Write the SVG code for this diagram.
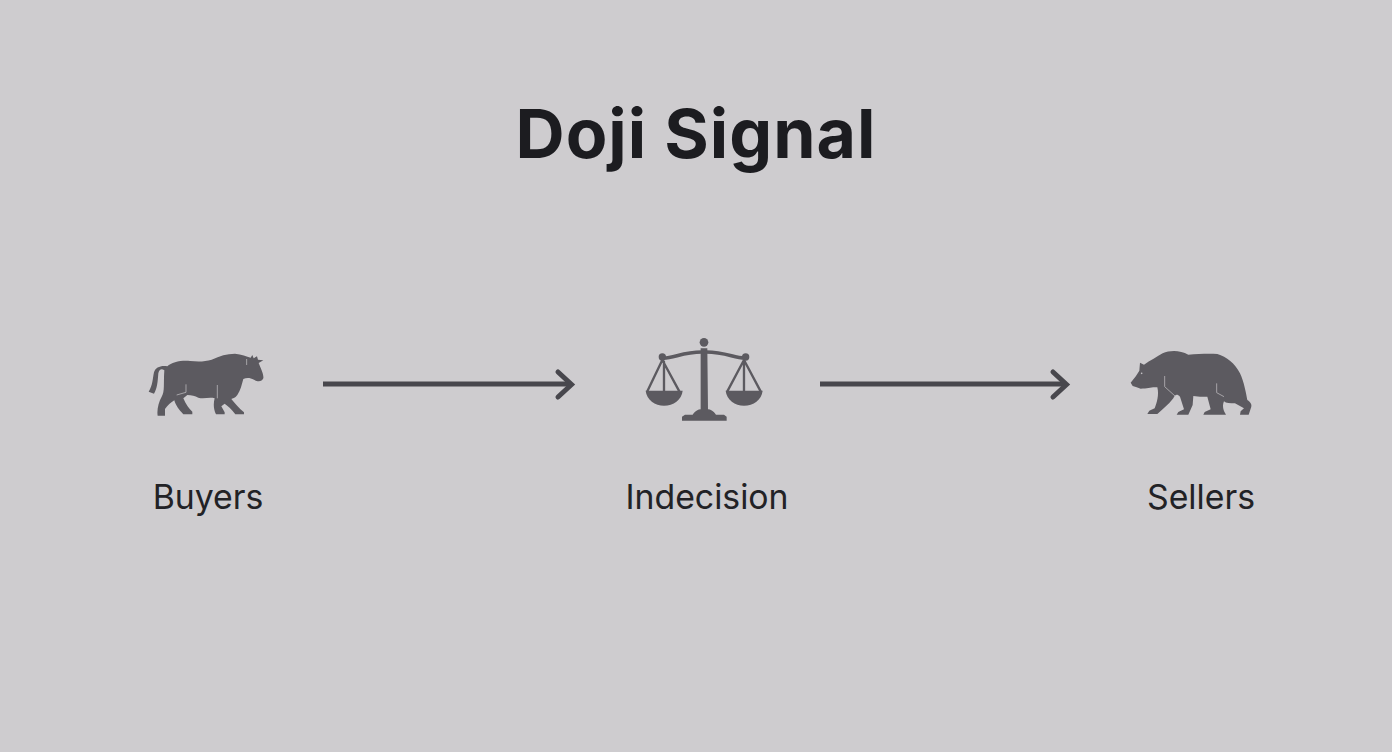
<svg xmlns="http://www.w3.org/2000/svg" width="1392" height="752" viewBox="0 0 1392 752">
<style>
.t{font-family:"Inter","Liberation Sans",sans-serif;fill:#222226;text-anchor:middle}
.title{font-size:68px;font-weight:700;fill:#1c1c20;letter-spacing:1px}
.lab{font-size:33.800px;font-weight:400}
.ic{fill:#5c5a60}
.cut{fill:none;stroke:#b4b2b6;stroke-width:2.500}
.ln{fill:none;stroke:#5c5a60;stroke-linecap:round;stroke-linejoin:round}
.conn{fill:none;stroke:#48474d;stroke-width:5}
.head{fill:none;stroke:#48474d;stroke-width:5;stroke-linecap:round;stroke-linejoin:miter}
</style>
<rect width="1392" height="752" fill="#cecccf"/>
<text id="title" class="t title" x="696" y="158">Doji Signal</text>
<g id="connectors">
<path class="conn" d="M323 384H569"/><path class="head" d="M558 372L571.500 384.500L558 397"/>
<path class="conn" d="M820 384H1064"/><path class="head" d="M1053 372L1066.500 384.500L1053 397"/>
</g>
<g id="buyers">
<g transform="translate(130 335) scale(.3333)">
<path class="ic" d="M56 170C68 152 68 130 72 112C76 96 95 90 112 94C125 82 150 76 180 78C205 80 225 80 245 74C270 62 290 56 315 56C335 58 350 64 362 68L367 60L371 70L381 64L384 74L400 76L386 84C392 100 402 118 400 130C396 140 384 142 372 134C360 128 350 128 340 132C335 150 332 165 322 180C315 190 308 190 304 192C314 205 328 220 342 232V238H316C305 222 292 212 284 206L274 214L284 232V238H258C250 222 250 205 254 190C240 186 220 192 205 188C195 183 185 180 172 180L160 190C168 208 176 220 187 230V238H160C148 225 136 210 133 196C123 202 112 212 105 222L105 242H83C80 225 86 200 95 185C105 170 100 145 103 106C95 100 88 102 85 115C83 140 82 160 72 176Z"/>
<path class="cut" d="M168 148V172L140 180M262 150V190M350 72V90"/>
</g>
<text class="t lab" x="208" y="509">Buyers</text>
</g>
<g id="indecision">
<g transform="translate(630 330) scale(.3333)">
<circle class="ic" cx="222" cy="37" r="13"/>
<path class="ic" d="M212 55H232L234 238C250 240 254 250 258 254H282L290 260V272H156V260L165 254H188C192 250 196 240 212 238Z"/>
<path class="ln" d="M97 84C130 86 160 64 222 66C285 64 315 86 347 84" stroke-width="11"/>
<circle class="ic" cx="97" cy="81" r="11"/><circle class="ic" cx="347" cy="81" r="11"/>
<path class="ln" d="M52 184L97 90L148 184M102 95V184M292 184L342 90L392 184M342 95V184" stroke-width="7"/>
<path class="ic" d="M47 182H158C155 210 130 227 102 227C75 227 50 210 47 182Z"/>
<path class="ic" d="M287 182H398C395 210 370 227 342 227C315 227 290 210 287 182Z"/>
</g>
<text class="t lab" x="707" y="509">Indecision</text>
</g>
<g id="sellers">
<g transform="translate(1120 340) scale(.3333)">
<path class="ic" d="M32 128L48 108L58 92L60 68L72 74C90 62 112 50 128 40C150 30 180 30 205 44C235 42 265 40 292 42C320 50 345 70 360 100C372 125 378 160 382 180C392 186 398 195 392 206L386 224H360L362 214L372 205L345 190C330 190 318 190 312 184C305 200 312 215 318 224H250L254 216L272 208L262 170L240 170L220 168L218 195L205 224H170L175 216L192 208L180 170C170 160 165 165 160 175C145 195 125 210 112 222H82L88 212L104 205C110 190 118 165 112 142C95 140 85 145 62 146L50 142L38 138Z"/>
<path class="cut" d="M134 108V140L165 168M290 130V158L312 170"/>
<circle cx="65" cy="100" r="2.500" fill="#c8c6ca"/>
</g>
<text class="t lab" x="1201" y="509">Sellers</text>
</g>
</svg>
